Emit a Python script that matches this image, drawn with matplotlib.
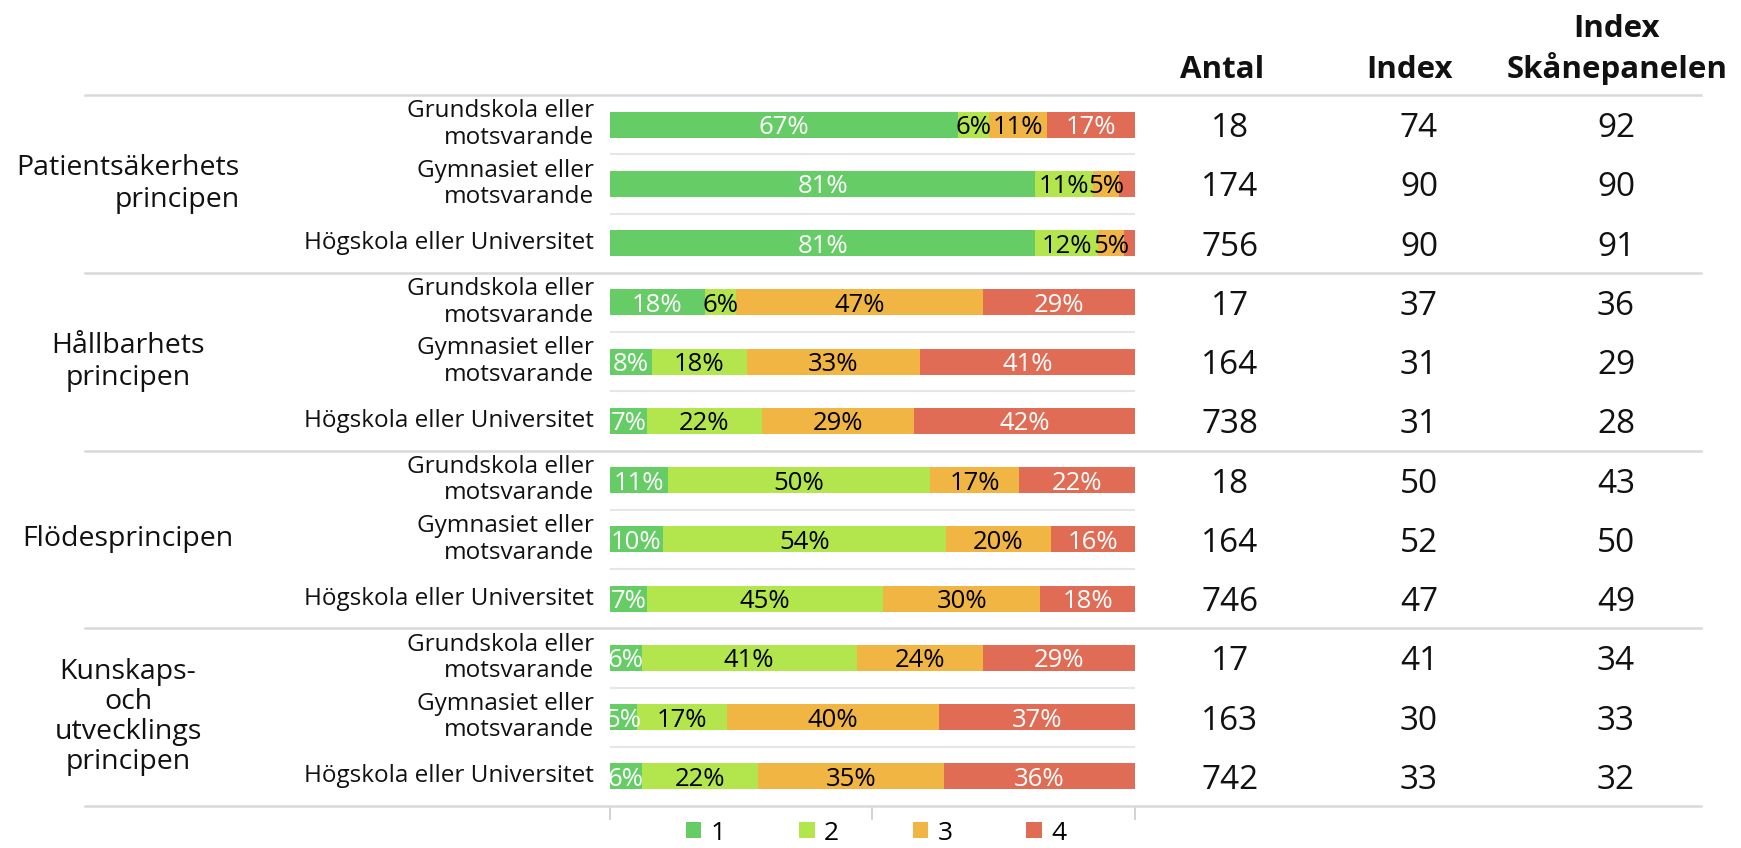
import matplotlib
matplotlib.use("Agg")
import matplotlib.pyplot as plt
import matplotlib.transforms as mtransforms
from matplotlib.patches import Patch
from matplotlib.lines import Line2D

plt.rcParams['font.family'] = ['Open Sans', 'DejaVu Sans']

# ---------------- data ----------------
groups = ["Patientsäkerhets\nprincipen", "Hållbarhets\nprincipen",
          "Flödesprincipen", "Kunskaps-\noch\nutvecklings\nprincipen"]
education = ["Grundskola eller\nmotsvarande", "Gymnasiet eller\nmotsvarande",
             "Högskola eller Universitet"]
series_names = ["1", "2", "3", "4"]
s1 = [67, 81, 81, 18, 8, 7, 11, 10, 7, 6, 5, 6]
s2 = [6, 11, 12, 6, 18, 22, 50, 54, 45, 41, 17, 22]
s3 = [11, 5, 5, 47, 33, 29, 17, 20, 30, 24, 40, 35]
s4 = [17, 3, 2, 29, 41, 42, 22, 16, 18, 29, 37, 36]
antal = [18, 174, 756, 17, 164, 738, 18, 164, 746, 17, 163, 742]
index_vals = [74, 90, 90, 37, 31, 31, 50, 52, 47, 41, 30, 33]
index_skane = [92, 90, 91, 36, 29, 28, 43, 50, 49, 34, 33, 32]
col_headers = ["Antal", "Index", "Index\nSkånepanelen"]

colors = ["#66cc66", "#b2e64c", "#f0b543", "#e06c55"]
text_colors = ["white", "black", "black", "white"]

# ---------------- layout ----------------
W, H = 1741, 848
fig = plt.figure(figsize=(W / 100, H / 100), dpi=100)
top_px, bot_px = 95, 806
left_px, right_px = 610, 1135
ax = fig.add_axes([left_px / W, 1 - bot_px / H, (right_px - left_px) / W, (bot_px - top_px) / H])

n_rows = len(s1)
ax.set_xlim(0, 100)
ax.set_ylim(n_rows - 0.5, -0.5)
for sp in ax.spines.values():
    sp.set_visible(False)
ax.set_yticks([])
ax.set_xticks([0, 50, 100])
ax.tick_params(axis='x', length=10, width=1.3, color='#d0d0d0', labelbottom=False, direction='out')

series = [s1, s2, s3, s4]
rows = list(range(n_rows))
totals = [sum(v[i] for v in series) for i in rows]
left = [0.0] * n_rows
for k, vals in enumerate(series):
    widths = [vals[i] / totals[i] * 100 for i in rows]
    ax.barh(rows, widths, left=left, height=0.44, color=colors[k], label=series_names[k], zorder=3)
    for i in rows:
        if vals[i] >= 4:
            ax.text(left[i] + widths[i] / 2, i, f"{vals[i]}%", ha='center', va='center_baseline',
                    fontsize=18.5, color=text_colors[k], zorder=4)
    left = [left[i] + widths[i] for i in rows]

# thin row lines inside bar area
for i in rows[:-1]:
    if (i + 1) % 3 != 0:
        ax.axhline(i + 0.5, color='#e6e6e6', lw=1.5, zorder=1)

trans = mtransforms.blended_transform_factory(fig.transFigure, ax.transData)

# group separators across full width
for b in [-0.5, 2.5, 5.5, 8.5, 11.5]:
    ax.add_line(Line2D([85 / W, 1701 / W], [b, b], transform=trans, color='#d9d9d9',
                       lw=1.8, clip_on=False, zorder=2))

# group labels
for g, name in enumerate(groups):
    yc = g * 3 + 1
    ax.text(128 / W, yc, name, transform=trans, ha='center', va='center', fontsize=20.5,
            multialignment='right' if g == 0 else 'center',
            linespacing=1.2 if g < 3 else 1.1, color='#111111')

# category labels
for i in rows:
    ax.text(594 / W, i, education[i % 3], transform=trans, ha='right', va='center',
            fontsize=17.5, multialignment='right', linespacing=1.15, color='#111111')

# table columns
col_x = [1230, 1419, 1616]
for i in rows:
    for cx, vals in zip(col_x, [antal, index_vals, index_skane]):
        ax.text(cx / W, i, str(vals[i]), transform=trans, ha='center', va='center_baseline',
                fontsize=24, color='#111111')

head_x = [1222, 1410, 1617]
for hx, h in zip(head_x, col_headers):
    fig.text(hx / W, 1 - 78 / H, h, ha='center', va='baseline', fontsize=22.5,
             fontweight='bold', linespacing=1.3, color='#111111')

# legend
handles = [Patch(facecolor=c, edgecolor='none') for c in colors]
fig.legend(handles, series_names, loc='center', bbox_to_anchor=(876 / W, 1 - 833 / H),
           ncol=4, frameon=False, fontsize=19, handlelength=0.58, handleheight=0.58,
           handletextpad=0.35, columnspacing=2.8, borderpad=0)

fig.savefig("out.png", dpi=100, facecolor='white')
